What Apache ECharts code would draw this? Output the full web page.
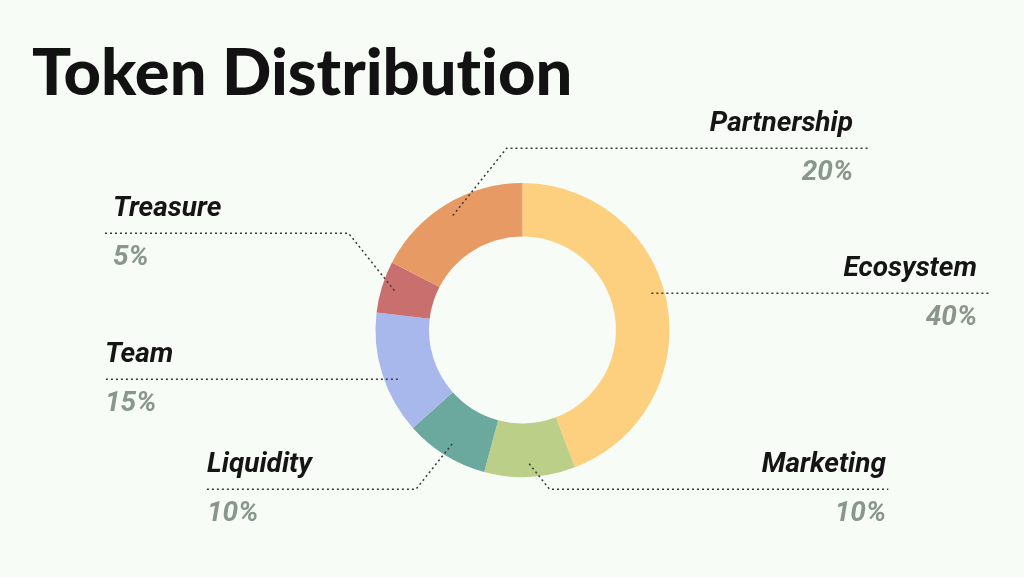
<!DOCTYPE html>
<html>
<head>
<meta charset="utf-8">
<script src="https://cdn.jsdelivr.net/npm/echarts@6/dist/echarts.min.js"></script>
<style>
html,body{margin:0;padding:0;background:#f8fcf7;}
#chart{width:1024px;height:577px;}
</style>
</head>
<body>
<div id="chart"></div>
<script>
// ---- data ----
const titleText = 'Token Distribut\u200Cion';
const categories = ['Ecosystem', 'Marketing', 'Liquidity', 'Team', 'Treasure', 'Partnership'];
const sliceValues = [44.2, 10, 9.2, 13.5, 5.7, 17.4];
const percentLabels = ['40%', '10%', '10%', '15%', '5%', '20%'];

// ---- styles / layout ----
const sliceColors = ['#fdd07f', '#bbcf88', '#6ba89d', '#a9b8ec', '#c9706f', '#e79a63'];
const pieCenter = [522.5, 330];
const labelAnchors = [
  { lineY: 293.3, lineEnd: 990.7, textX: 977, side: 'right', straight: true },
  { lineY: 489.3, lineEnd: 888.3, textX: 886, side: 'right' },
  { lineY: 489.3, lineEnd: 205, textX: 207, side: 'left' },
  { lineY: 379.3, lineEnd: 103.3, textX: 105, side: 'left', straight: true },
  { lineY: 233.3, lineEnd: 103.3, textX: 113, side: 'left' },
  { lineY: 148.3, lineEnd: 868.3, textX: 853, side: 'right' }
];

const labelFont = { fontFamily: 'Roboto', fontStyle: 'italic', fontWeight: 'bold', fontSize: 28, lineHeight: 49 };

const chart = echarts.init(document.getElementById('chart'), null, { renderer: 'canvas' });

const ringData = categories.map((name, i) => ({ name, value: sliceValues[i], itemStyle: { color: sliceColors[i] } }));
const labelData = categories.map((name, i) => ({ name, value: sliceValues[i] }));

chart.setOption({
  backgroundColor: '#f8fcf7',
  animation: false,
  title: {
    text: titleText,
    left: 27,
    top: 37,
    textStyle: { fontFamily: 'Lato', fontWeight: 900, fontSize: 65, color: '#121212' }
  },
  series: [
    {
      type: 'pie',
      z: 2,
      center: pieCenter,
      radius: [93.5, 147],
      startAngle: 90,
      clockwise: true,
      silent: true,
      label: { show: false },
      labelLine: { show: false },
      emphasis: { disabled: true },
      data: ringData
    },
    {
      type: 'pie',
      z: 5,
      center: pieCenter,
      radius: [0, 134],
      startAngle: 90,
      clockwise: true,
      silent: true,
      avoidLabelOverlap: false,
      itemStyle: { color: 'rgba(0,0,0,0)' },
      emphasis: { disabled: true },
      label: {
        show: true,
        position: 'outside',
        formatter: function (p) {
          const s = labelAnchors[p.dataIndex].side === 'right' ? 'R' : 'L';
          return '{n' + s + '|' + p.name + '}\n{p' + s + '|' + percentLabels[p.dataIndex] + '}';
        },
        rich: {
          nR: Object.assign({}, labelFont, { color: '#151515', align: 'right' }),
          pR: Object.assign({}, labelFont, { color: '#8a968a', align: 'right' }),
          nL: Object.assign({}, labelFont, { color: '#151515', align: 'left' }),
          pL: Object.assign({}, labelFont, { color: '#8a968a', align: 'left' })
        }
      },
      labelLine: {
        show: true,
        length: 10,
        length2: 10,
        smooth: false,
        lineStyle: { color: '#3a3a3a', width: 1.5, type: [2, 3] }
      },
      labelLayout: function (params) {
        const a = labelAnchors[params.dataIndex];
        const pts = params.labelLinePoints;
        const sign = a.side === 'right' ? 1 : -1;
        const out = { x: a.textX, y: a.lineY, align: a.side, verticalAlign: 'middle' };
        if (pts && pts.length) {
          let s = [pts[0][0], pts[0][1]];
          let elbow;
          if (a.straight) {
            const r = Math.hypot(s[0] - pieCenter[0], s[1] - pieCenter[1]);
            const dy = a.lineY - pieCenter[1];
            s = [pieCenter[0] + sign * Math.sqrt(Math.max(r * r - dy * dy, 0)), a.lineY];
            elbow = [s[0], s[1]];
          } else {
            const dy = a.lineY - s[1];
            elbow = [s[0] + sign * Math.abs(dy) * 0.8, a.lineY];
          }
          out.labelLinePoints = [s, elbow, [a.lineEnd, a.lineY]];
        }
        return out;
      },
      data: labelData
    }
  ]
});
</script>
</body>
</html>
